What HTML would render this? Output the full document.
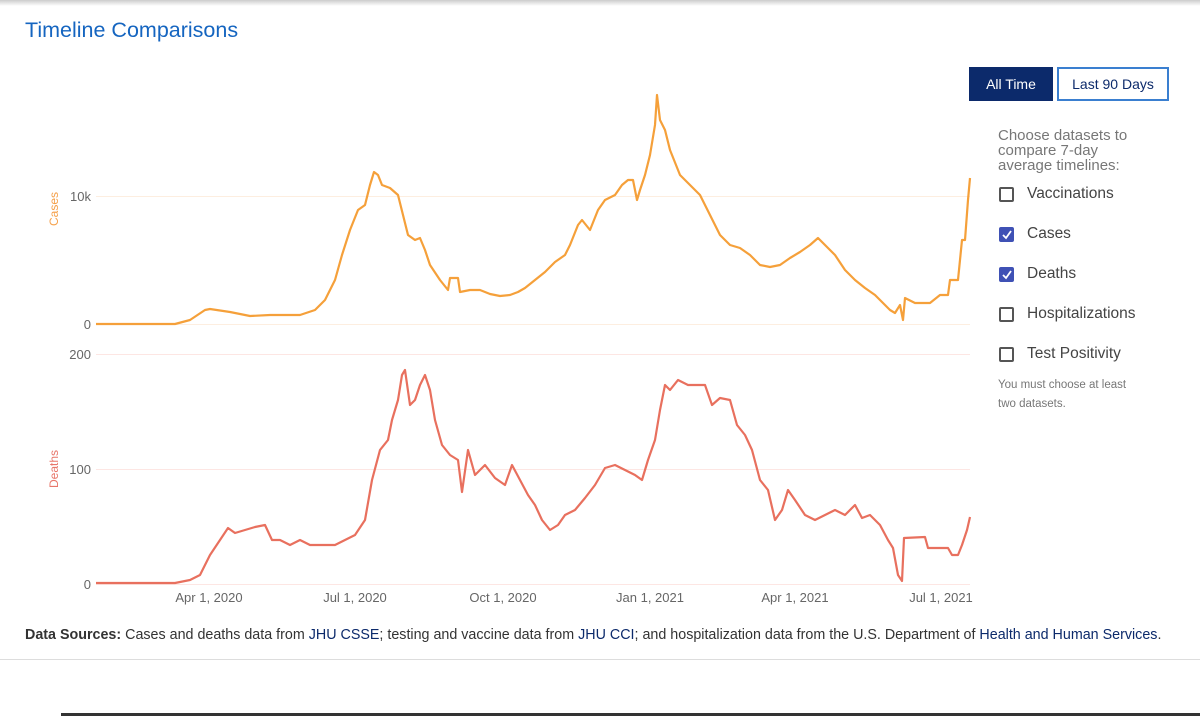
<!DOCTYPE html>
<html><head><meta charset="utf-8"><style>
body{margin:0;width:1200px;height:716px;background:#fff;font-family:"Liberation Sans",sans-serif;position:relative;overflow:hidden}
.t{position:absolute;white-space:nowrap}
.cb{position:absolute;left:999px;width:15px;height:15px;border:2px solid #555;border-radius:2px;box-sizing:border-box}
.cb.on{background:#3f51b5;border-color:#3f51b5}
.lab{position:absolute;left:1027px;font-size:15.5px;color:#444}
</style></head><body>
<div style="position:absolute;left:0;top:0;width:1200px;height:6px;background:linear-gradient(#ccc,#fff)"></div>
<div class="t" style="left:25px;top:18px;font-size:21.5px;color:#1565c0">Timeline Comparisons</div>
<div class="t" style="left:969px;top:67px;width:84px;height:34px;background:#0c2a6b;color:#fff;font-size:14px;line-height:34px;text-align:center">All Time</div>
<div class="t" style="left:1057px;top:67px;width:112px;height:34px;border:2px solid #3a7fd0;box-sizing:border-box;color:#0c2a6b;font-size:14px;line-height:30px;text-align:center">Last 90 Days</div>
<div class="t" style="left:998px;top:128px;font-size:15px;line-height:15px;color:#777">Choose datasets to<br>compare 7-day<br>average timelines:</div>
<div class="cb" style="top:187px"></div><div class="lab" style="top:185px">Vaccinations</div>
<div class="cb on" style="top:227px"><svg width="11" height="11" style="position:absolute;left:0;top:0"><path d="M2 6 L5 9 L10 2" stroke="#fff" stroke-width="1.8" fill="none"/></svg></div><div class="lab" style="top:225px">Cases</div>
<div class="cb on" style="top:267px"><svg width="11" height="11" style="position:absolute;left:0;top:0"><path d="M2 6 L5 9 L10 2" stroke="#fff" stroke-width="1.8" fill="none"/></svg></div><div class="lab" style="top:265px">Deaths</div>
<div class="cb" style="top:307px"></div><div class="lab" style="top:305px">Hospitalizations</div>
<div class="cb" style="top:347px"></div><div class="lab" style="top:345px">Test Positivity</div>
<div class="t" style="left:998px;top:376px;font-size:11.5px;line-height:19px;color:#777">You must choose at least<br>two datasets.</div>
<svg width="1200" height="716" style="position:absolute;left:0;top:0" font-family="Liberation Sans,sans-serif">
<g stroke-width="1"><line x1="96" x2="970" y1="196.5" y2="196.5" stroke="#fdeee0"/><line x1="96" x2="970" y1="324.5" y2="324.5" stroke="#fdeee0"/>
<line x1="96" x2="970" y1="354.5" y2="354.5" stroke="#fde6e3"/><line x1="96" x2="970" y1="469.5" y2="469.5" stroke="#fde6e3"/><line x1="96" x2="970" y1="584.5" y2="584.5" stroke="#fde6e3"/></g>
<g font-size="13" fill="#666" text-anchor="end"><text x="91" y="201">10k</text><text x="91" y="329">0</text><text x="91" y="359">200</text><text x="91" y="474">100</text><text x="91" y="589">0</text></g>
<text transform="translate(58,209) rotate(-90)" font-size="12" fill="#f5a04a" text-anchor="middle">Cases</text>
<text transform="translate(58,469) rotate(-90)" font-size="12" fill="#e8766a" text-anchor="middle">Deaths</text>
<g font-size="13" fill="#666" text-anchor="middle"><text x="209" y="602">Apr 1, 2020</text><text x="355" y="602">Jul 1, 2020</text><text x="503" y="602">Oct 1, 2020</text><text x="650" y="602">Jan 1, 2021</text><text x="795" y="602">Apr 1, 2021</text><text x="941" y="602">Jul 1, 2021</text></g>
<polyline fill="none" stroke="#f5a03a" stroke-width="2.2" stroke-linejoin="round" points="96,324 175,324 190,320 205,310 210,309 230,312 250,316 270,315 300,315 315,310 325,300 335,280 342,255 350,230 358,210 365,205 370,185 374,172 378,175 382,185 390,188 398,195 403,215 408,235 415,240 420,238 425,250 430,265 440,280 448,290 450,278 458,278 460,292 470,290 480,290 490,294 500,296 510,295 518,292 525,288 535,280 545,272 555,262 565,255 570,245 578,225 582,220 590,230 598,210 605,200 615,195 622,185 628,180 633,180 637,200 640,190 645,175 650,155 655,125 657,95 660,120 665,130 670,150 680,175 690,185 700,195 710,215 720,235 730,245 740,248 750,255 760,265 770,267 780,265 790,258 800,252 810,245 818,238 825,245 835,255 845,270 855,280 865,288 875,295 885,305 890,310 895,313 900,305 903,320 905,298 915,303 930,303 940,295 948,295 950,280 958,280 962,240 965,240 968,200 970,178"/>
<polyline fill="none" stroke="#e8705e" stroke-width="2.2" stroke-linejoin="round" points="96,583 175,583 190,580 200,575 205,565 210,555 220,540 228,528 235,533 245,530 255,527 265,525 272,540 280,540 290,545 300,540 310,545 320,545 335,545 345,540 355,535 365,520 372,480 380,450 388,440 392,420 398,400 402,375 405,370 410,405 415,400 420,385 425,375 430,390 435,420 442,445 450,455 458,460 462,492 468,450 475,475 485,465 495,478 505,485 512,465 520,480 528,495 535,505 542,520 550,530 558,525 565,515 575,510 585,498 595,485 605,468 615,465 625,470 635,475 642,480 648,460 655,440 660,410 665,385 670,390 678,380 688,385 698,385 705,385 712,405 720,398 730,400 737,425 745,435 752,450 760,480 768,490 775,520 782,510 788,490 795,500 805,515 815,520 825,515 835,510 845,515 855,505 862,518 870,515 880,525 888,540 893,548 898,575 902,581 904,538 925,537 928,548 948,548 952,555 958,555 962,545 967,530 970,517"/>
</svg>
<div class="t" style="left:25px;top:627px;font-size:14.3px;color:#333"><b>Data Sources:</b> Cases and deaths data from <span style="color:#0c2a6b">JHU CSSE</span>; testing and vaccine data from <span style="color:#0c2a6b">JHU CCI</span>; and hospitalization data from the U.S. Department of <span style="color:#0c2a6b">Health and Human Services</span>.</div>
<div style="position:absolute;left:0;top:659px;width:1200px;height:1px;background:#ddd"></div>
<div style="position:absolute;left:61px;top:713px;width:1139px;height:3px;background:#333"></div>
</body></html>
